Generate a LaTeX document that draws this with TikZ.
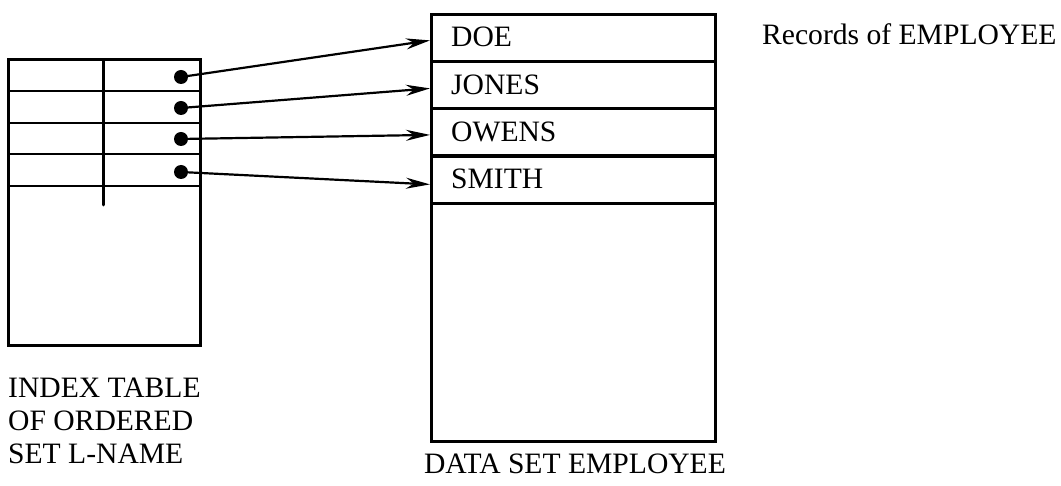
\documentclass[tikz,border=0pt]{standalone}
\usepackage{fontspec}
\setmainfont{Liberation Serif}
\usetikzlibrary{arrows.meta}
\begin{document}
\begin{tikzpicture}[x=1pt,y=-1pt,
  box/.style={draw,line width=3pt},
  rowbox/.style={draw,line width=2.8pt,minimum width=284pt,minimum height=47pt,inner sep=0pt,anchor=north west},
  lbl/.style={font=\fontsize{29.6}{33}\selectfont,inner sep=0pt},
  dot/.style={circle,fill,inner sep=0pt,minimum size=14pt},
  ptr/.style={line width=2.2pt,-{Stealth[length=24pt,width=11pt]}}]
\useasboundingbox (0,0) rectangle (1061,486);
% index table
\draw[box] (8,60) rectangle (200,346);
\foreach \y in {91,123,154,186} \draw[line width=2.8pt] (8,\y) -- (200,\y);
\draw[line width=3pt,line cap=round] (103,60) -- (103,205);
\node[dot] (d1) at (181,77) {};
\node[dot] (d2) at (181,108) {};
\node[dot] (d3) at (181,139) {};
\node[dot] (d4) at (181,172) {};
% data set
\node[box,minimum width=284pt,minimum height=427pt,anchor=north west,inner sep=0pt] (ds) at (430,13) {};
\node[rowbox] (r1) at (430,13) {};
\node[rowbox] (r2) at (430,60) {};
\node[rowbox] (r3) at (430,107) {};
\node[rowbox] (r4) at (430,155) {};
\node[lbl,anchor=base west] (t1) at (451,47) {DOE};
\node[lbl,anchor=base west] (t2) at (451,95) {JONES};
\node[lbl,anchor=base west] (t3) at (451,142) {OWENS};
\node[lbl,anchor=base west] (t4) at (451,189) {SMITH};
\draw[ptr] (d1.center) -- ([yshift=-2.5pt]r1.west);
\draw[ptr] (d2.center) -- ([yshift=-3.5pt]r2.west);
\draw[ptr] (d3.center) -- ([yshift=-3pt]r3.west);
\draw[ptr] (d4.center) -- ([yshift=-4.5pt]r4.west);
% labels
\node[lbl,anchor=base west] (rec) at (762,45) {Records of EMPLOYEE};
\node[lbl,anchor=base] (dsl) at (575,473) {DATA SET EMPLOYEE};
\node[lbl,anchor=north west,align=left] (idx) at (8,378) {INDEX TABLE\\OF ORDERED\\SET L-NAME};
\end{tikzpicture}
\end{document}
